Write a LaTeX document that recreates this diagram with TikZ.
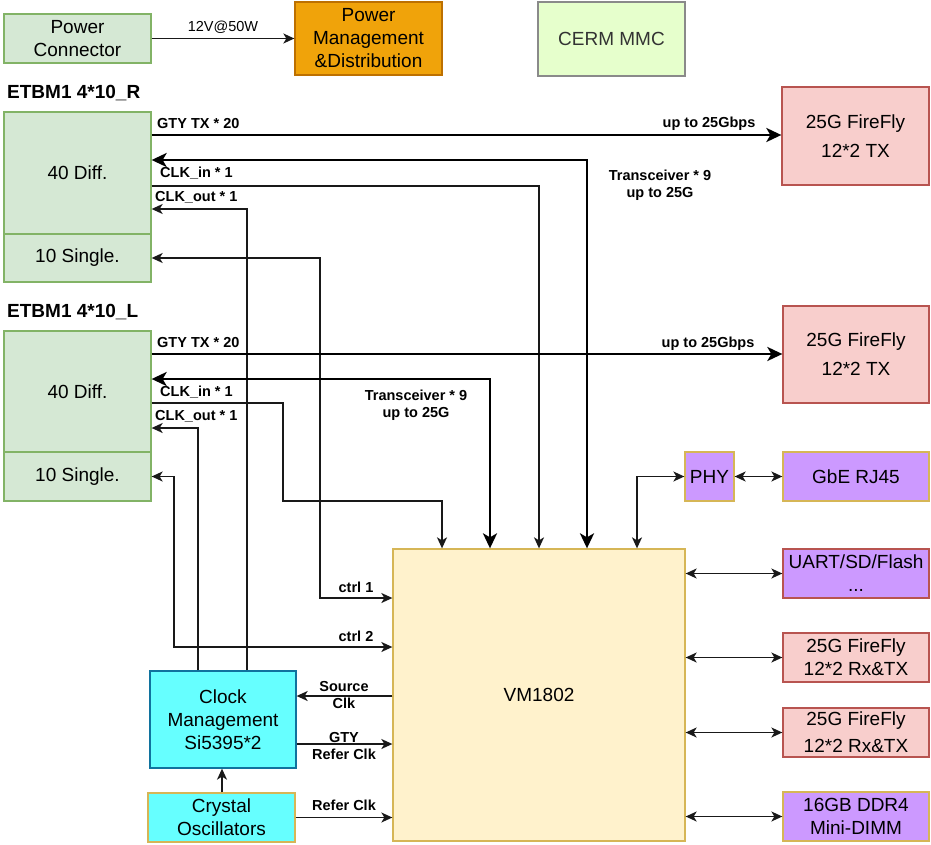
\documentclass[tikz,border=0pt]{standalone}
\usepackage{fontspec}
\setmainfont{Liberation Sans}
\usetikzlibrary{arrows.meta}
\definecolor{gfill}{HTML}{D5E8D4}
\definecolor{gdraw}{HTML}{82B366}
\definecolor{ofill}{HTML}{F0A30A}
\definecolor{odraw}{HTML}{BD7000}
\definecolor{cfill}{HTML}{E6FFCC}
\definecolor{cdraw}{HTML}{8A8A8A}
\definecolor{ctext}{HTML}{333333}
\definecolor{rfill}{HTML}{F8CECC}
\definecolor{rdraw}{HTML}{B85450}
\definecolor{yfill}{HTML}{FFF2CC}
\definecolor{ydraw}{HTML}{D6B656}
\definecolor{pfill}{HTML}{CC99FF}
\definecolor{bfill}{HTML}{66FFFF}
\definecolor{bdraw}{HTML}{10739E}
\begin{document}
\begin{tikzpicture}[x=1pt,y=-1pt,
  box/.style={draw, line width=1.3pt, inner sep=0pt, align=center, font=\fontsize{19}{23}\selectfont},
  gbox/.style={box, fill=gfill, draw=gdraw},
  obox/.style={box, fill=ofill, draw=odraw},
  cbox/.style={box, fill=cfill, draw=cdraw, text=ctext},
  rbox/.style={box, fill=rfill, draw=rdraw},
  ybox/.style={box, fill=yfill, draw=ydraw},
  pbox/.style={box, fill=pfill, draw=ydraw},
  prbox/.style={box, fill=pfill, draw=rdraw},
  bbox/.style={box, fill=bfill, draw=bdraw},
  bybox/.style={box, fill=bfill, draw=ydraw},
  lbl/.style={font=\bfseries\fontsize{14.5}{17}\selectfont, inner sep=0pt, align=center},
  ttl/.style={font=\bfseries\fontsize{19}{23}\selectfont, inner sep=0pt, anchor=west},
  wire/.style={line width=1.5pt, draw=black!90},
  bus/.style={line width=2.8pt, draw=black},
  tipe/.style={-{Stealth[length=11pt,width=10pt,inset=3pt]}},
  tipb/.style={{Stealth[length=11pt,width=10pt,inset=3pt]}-{Stealth[length=11pt,width=10pt,inset=3pt]}},
  btipe/.style={-{Stealth[length=15pt,width=14pt,inset=4pt]}},
  btipb/.style={{Stealth[length=15pt,width=14pt,inset=4pt]}-{Stealth[length=15pt,width=14pt,inset=4pt]}}
]
\useasboundingbox (0,0) rectangle (931,845);

% boxes
\node[gbox, minimum width=147pt, minimum height=49pt] (pc) at (77.5,38.5) {Power\\Connector};
\node[obox, minimum width=147pt, minimum height=73pt] (pm) at (368.5,38.5) {Power\\Management\\\&Distribution};
\node[cbox, minimum width=147pt, minimum height=74pt] (cerm) at (611.5,39) {CERM MMC};

\node[ttl] (rt) at (7,93) {ETBM1 4*10\_R};
\node[gbox, minimum width=147pt, minimum height=122pt] (Rdiff) at (77.5,173) {40 Diff.};
\node[gbox, minimum width=147pt, minimum height=48pt] (Rsing) at (77.5,258) {10 Single.};

\node[ttl] (lt) at (7,312) {ETBM1 4*10\_L};
\node[gbox, minimum width=147pt, minimum height=121pt] (Ldiff) at (77.5,391.5) {40 Diff.};
\node[gbox, minimum width=147pt, minimum height=49pt] (Lsing) at (77.5,476.5) {10 Single.};

\node[rbox, minimum width=147pt, minimum height=98pt] (ffR) at (855.5,136) {25G FireFly\\[6pt]12*2 TX};
\node[rbox, minimum width=146pt, minimum height=97pt] (ffL) at (856,354.5) {25G FireFly\\[6pt]12*2 TX};

\node[ybox, minimum width=292pt, minimum height=292pt] (vm) at (539,695) {VM1802};
\node[bbox, minimum width=146pt, minimum height=97pt] (clk) at (223,719.5) {Clock\\Management\\Si5395*2};
\node[bybox, minimum width=147pt, minimum height=49pt] (xtal) at (221.5,817.5) {Crystal\\Oscillators};

\node[pbox, minimum width=49pt, minimum height=49pt] (phy) at (709.5,476.5) {PHY};
\node[pbox, minimum width=146pt, minimum height=49pt] (gbe) at (856,476.5) {GbE RJ45};
\node[prbox, minimum width=146pt, minimum height=49pt] (uart) at (856,573.5) {UART/SD/Flash\\...};
\node[rbox, minimum width=146pt, minimum height=49pt] (ffrx1) at (856,657.5) {25G FireFly\\12*2 Rx\&TX};
\node[rbox, minimum width=146pt, minimum height=49pt] (ffrx2) at (856,732.5) {25G FireFly\\[4pt]12*2 Rx\&TX};
\node[pbox, minimum width=146pt, minimum height=49pt] (ddr) at (856,816.5) {16GB DDR4\\Mini-DIMM};

% labels
\node[lbl, font=\fontsize{14.5}{17}\selectfont] (l12v) at (223,27) {12V@50W};
\node[lbl, anchor=west] (lgtyR) at (157,124) {GTY TX * 20};
\node[lbl] (lupR) at (709,124) {up to 25Gbps};
\node[lbl] (ltrR) at (660,185.5) {Transceiver * 9\\up to 25G};
\node[lbl, anchor=west] (lcinR) at (160,173) {CLK\_in * 1};
\node[lbl, anchor=west] (lcoutR) at (155,197) {CLK\_out * 1};
\node[lbl, anchor=west] (lgtyL) at (157,343) {GTY TX * 20};
\node[lbl] (lupL) at (708,344) {up to 25Gbps};
\node[lbl] (ltrL) at (416,405) {Transceiver * 9\\up to 25G};
\node[lbl, anchor=west] (lcinL) at (160,392) {CLK\_in * 1};
\node[lbl, anchor=west] (lcoutL) at (155,416) {CLK\_out * 1};
\node[lbl] (lc1) at (356,587) {ctrl 1};
\node[lbl] (lc2) at (356,636) {ctrl 2};
\node[lbl] (lsrc) at (344,695.5) {Source\\Clk};
\node[lbl] (lgref) at (344,746) {GTY\\Refer Clk};
\node[lbl] (lref) at (344,805) {Refer Clk};

% connectors
\draw[wire,tipe] (pc.east) -- (pm.west);
\draw[bus,btipe] (Rdiff.east |- 0,135) -- (ffR.west |- 0,135);
\draw[bus,btipb] (Rdiff.east |- 0,160) -| (vm.north -| 587,0);
\draw[wire,tipe] (Rdiff.east |- 0,186) -| (vm.north -| 539,0);
\draw[wire,tipe] (clk.north -| 247,0) |- (Rdiff.east |- 0,209);
\coordinate (c1) at (320,598);
\draw[wire,tipb] (Rsing.east) -| (c1) -- (vm.west |- c1);

\draw[bus,btipe] (Ldiff.east |- 0,354) -- (ffL.west |- 0,354);
\draw[bus,btipb] (Ldiff.east |- 0,379) -| (vm.north -| 490,0);
\coordinate (c3) at (283,501);
\draw[wire,tipe] (Ldiff.east |- 0,403) -| (c3) -| (vm.north -| 442,0);
\draw[wire,tipe] (clk.north -| 198,0) |- (Ldiff.east |- 0,428);
\coordinate (c2) at (174,647);
\draw[wire,tipb] (Lsing.east) -| (c2) -- (vm.west |- c2);

\draw[wire,tipe] (vm.west |- 0,696) -- (clk.east |- 0,696);
\draw[wire,tipe] (clk.east |- 0,744) -- (vm.west |- 0,744);
\draw[wire,tipe] (xtal.north -| 222,0) -- (clk.south -| 222,0);
\draw[wire,tipe] (xtal.east) -- (vm.west |- xtal.east);

\draw[wire,tipb] (vm.north -| 637,0) |- (phy.west);
\draw[wire,tipb] (phy.east) -- (gbe.west);
\draw[wire,tipb] (vm.east |- uart.west) -- (uart.west);
\draw[wire,tipb] (vm.east |- ffrx1.west) -- (ffrx1.west);
\draw[wire,tipb] (vm.east |- ffrx2.west) -- (ffrx2.west);
\draw[wire,tipb] (vm.east |- ddr.west) -- (ddr.west);
\end{tikzpicture}
\end{document}
